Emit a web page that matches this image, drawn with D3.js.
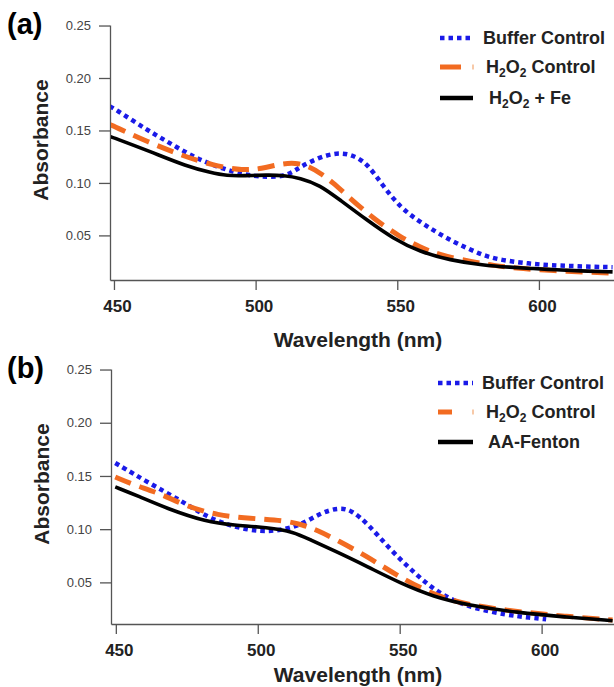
<!DOCTYPE html>
<html><head><meta charset="utf-8">
<script src="https://cdn.jsdelivr.net/npm/d3@7"></script>
<style>
html,body{margin:0;padding:0;background:#fff;}
text{font-family:"Liberation Sans",Arial,Helvetica,sans-serif;}
</style></head>
<body><svg id="c" width="614" height="687"></svg>
<script>
// ---------- data ----------
const yTicks = [0.05, 0.10, 0.15, 0.20, 0.25];
const xTicks = [450, 500, 550, 600];
const yTickLabels = ["0.05", "0.10", "0.15", "0.20", "0.25"];
const xTickLabels = ["450", "500", "550", "600"];

// Panel (a)
const aBufferWl = [448.5, 450, 462, 468.7, 476, 482.8, 492, 498, 504, 509, 513, 515.6, 522, 528.7, 534, 539.3, 545, 551, 557, 562.7, 568.6, 574.6, 580.2, 586, 592.3, 598, 604, 612, 620, 626];
const aBufferAb = [0.173, 0.171, 0.150, 0.1395, 0.128, 0.119, 0.1105, 0.107, 0.1057, 0.106, 0.110, 0.115, 0.124, 0.129, 0.127, 0.119, 0.097, 0.077, 0.0646, 0.055, 0.0455, 0.038, 0.031, 0.027, 0.0245, 0.0228, 0.0216, 0.0208, 0.0200, 0.0197];
const aH2O2Wl = [448.5, 450, 462, 473.3, 485, 495.8, 502, 508.6, 514, 519, 523, 527, 533.3, 541.4, 551, 558, 565, 576.7, 584, 592.3, 600, 610, 618, 626];
const aH2O2Ab = [0.1555, 0.154, 0.139, 0.1268, 0.1165, 0.1118, 0.1135, 0.118, 0.1195, 0.1156, 0.109, 0.101, 0.0855, 0.0665, 0.0484, 0.039, 0.031, 0.0248, 0.0213, 0.0187, 0.0172, 0.0158, 0.0148, 0.014];
const aFeWl = [448.5, 450, 462.7, 475.8, 484, 489.9, 496, 504, 510, 515.6, 522.7, 529.8, 539.3, 548.5, 558, 568.6, 580.2, 590, 597.9, 606, 614, 626];
const aFeAb = [0.1443, 0.143, 0.130, 0.1156, 0.110, 0.1067, 0.1068, 0.1076, 0.1072, 0.1048, 0.098, 0.0837, 0.0646, 0.047, 0.0343, 0.0264, 0.0216, 0.0196, 0.0184, 0.0172, 0.0162, 0.0152];

// Panel (b)
const bBufferWl = [449.8, 462, 472.7, 482, 491.5, 501, 508, 515, 522.2, 528.5, 533, 538.8, 545.8, 552.9, 560, 567, 576, 588.1, 596, 601.6];
const bBufferAb = [0.1622, 0.1429, 0.1272, 0.1115, 0.102, 0.0975, 0.099, 0.1037, 0.1153, 0.1203, 0.118, 0.105, 0.0834, 0.0646, 0.0475, 0.035, 0.0256, 0.0193, 0.0168, 0.0153];
const bH2O2Wl = [449.8, 457, 465.7, 475.3, 485.8, 497.4, 509, 516, 521, 528, 538.8, 548, 562, 574, 591.7, 608, 625];
const bH2O2Ab = [0.149, 0.141, 0.1335, 0.121, 0.1131, 0.110, 0.1084, 0.104, 0.099, 0.0897, 0.074, 0.058, 0.038, 0.0287, 0.0224, 0.0182, 0.0146];
const bFeWl = [449.8, 458, 468, 482, 491.5, 503.4, 512.7, 518.6, 526.8, 538.8, 550.4, 562, 574, 591.7, 608, 625];
const bFeAb = [0.1397, 0.131, 0.1194, 0.1068, 0.1037, 0.1016, 0.0975, 0.0897, 0.080, 0.0646, 0.049, 0.0365, 0.0287, 0.0215, 0.0175, 0.014];

const seriesNamesA = ["Buffer Control", "H2O2 Control", "H2O2 + Fe"];
const seriesNamesB = ["Buffer Control", "H2O2 Control", "AA-Fenton"];

// ---------- styles ----------
const styles = [
  {color: "#1a1ae8", width: 4.5, dash: "4.5,4"},
  {color: "#f26b21", width: 5, dash: "17,9"},
  {color: "#000000", width: 3.6, dash: null}
];

const svg = d3.select("#c");

function panel(cfg) {
  const g = svg.append("g");
  const x = d3.scaleLinear().domain(cfg.xDomain).range([cfg.left, 614]);
  const y = d3.scaleLinear().domain(cfg.yDomain).range([cfg.bottom, cfg.top]);

  // y axis
  const ya = g.append("g").attr("transform", `translate(${cfg.left},0)`)
    .call(d3.axisLeft(y).tickValues(yTicks).tickFormat((d, i) => yTickLabels[i]).tickSize(11).tickSizeOuter(0).tickPadding(8));
  ya.select(".domain").attr("stroke", "#555").attr("stroke-width", 1.3);
  ya.selectAll(".tick line").attr("stroke", "#555").attr("stroke-width", 1.3);
  ya.selectAll(".tick text").attr("font-size", 13).attr("fill", "#444")
    .attr("font-family", "Liberation Sans, Arial, sans-serif");

  // x axis
  const xa = g.append("g").attr("transform", `translate(0,${cfg.bottom})`)
    .call(d3.axisBottom(x).tickValues(xTicks).tickFormat((d, i) => xTickLabels[i]).tickSize(10).tickSizeOuter(0).tickPadding(10));
  xa.select(".domain").attr("stroke", "#555").attr("stroke-width", 1.3);
  xa.selectAll(".tick line").attr("stroke", "#555").attr("stroke-width", 1.3);
  xa.selectAll(".tick text").attr("font-size", 17).attr("font-weight", "bold").attr("fill", "#222")
    .attr("font-family", "Liberation Sans, Arial, sans-serif").attr("dx", 3);

  // clip
  const cid = "clip" + cfg.id;
  svg.append("defs").append("clipPath").attr("id", cid)
    .append("rect").attr("x", cfg.left + 1).attr("y", cfg.top - 20).attr("width", 614 - cfg.left).attr("height", cfg.bottom - cfg.top + 19);

  const line = d3.line().x(d => x(d[0])).y(d => y(d[1])).curve(d3.curveBasis);
  const lg = g.append("g").attr("clip-path", `url(#${cid})`);
  cfg.series.forEach((s, i) => {
    const st = styles[i];
    const data = s.wl.map((w, k) => [w, s.ab[k]]);
    lg.append("path").datum(data).attr("d", line).attr("fill", "none")
      .attr("stroke", st.color).attr("stroke-width", st.width)
      .attr("stroke-dasharray", st.dash).attr("stroke-linejoin", "round");
  });

  // panel label
  g.append("text").attr("x", 7).attr("y", cfg.top + 9).attr("font-size", 29).attr("font-weight", "bold").text(cfg.label);

  // axis titles
  g.append("text").attr("transform", `translate(${cfg.left - 62},${cfg.top + 115}) rotate(-90)`)
    .attr("text-anchor", "middle").attr("font-size", 21).attr("font-weight", "bold").attr("fill", "#222").text("Absorbance");
  g.append("text").attr("x", 358).attr("y", cfg.bottom + cfg.titleOff).attr("text-anchor", "middle")
    .attr("font-size", 21).attr("font-weight", "bold").attr("fill", "#222").text("Wavelength (nm)");

  // legend
  cfg.legend.forEach((L, i) => {
    const st = styles[i];
    const cy = L.base - 6;
    const lgE = g.append("g");
    if (i === 1) {
      lgE.append("line").attr("x1", L.x0).attr("x2", L.x0 + L.dash).attr("y1", cy).attr("y2", cy)
        .attr("stroke", st.color).attr("stroke-width", st.width);
      lgE.append("line").attr("x1", 472).attr("x2", 474).attr("y1", cy).attr("y2", cy)
        .attr("stroke", "#f7c9a8").attr("stroke-width", st.width);
    } else {
      lgE.append("line").attr("x1", L.x0).attr("x2", 473).attr("y1", cy).attr("y2", cy)
        .attr("stroke", st.color).attr("stroke-width", 4.5).attr("stroke-dasharray", st.dash);
    }
    const t = g.append("text").attr("x", L.tx).attr("y", L.base).attr("font-size", 18)
      .attr("font-weight", "bold").attr("fill", "#222");
    const name = cfg.names[i];
    if (name.startsWith("H2O2")) {
      t.append("tspan").text("H");
      t.append("tspan").attr("font-size", 12).attr("dy", 4).text("2");
      t.append("tspan").attr("dy", -4).text("O");
      t.append("tspan").attr("font-size", 12).attr("dy", 4).text("2");
      t.append("tspan").attr("dy", -4).text(name.slice(4));
    } else {
      t.text(name);
    }
  });
}

panel({
  id: "a", label: "(a)", left: 110, top: 25, bottom: 280, titleOff: 67,
  xDomain: [448.6, 626.5], yDomain: [0.0075, 0.2505],
  names: seriesNamesA,
  series: [{wl: aBufferWl, ab: aBufferAb}, {wl: aH2O2Wl, ab: aH2O2Ab}, {wl: aFeWl, ab: aFeAb}],
  legend: [{base: 44, x0: 440, tx: 483}, {base: 73, x0: 440, tx: 486, dash: 21}, {base: 104, x0: 440, tx: 489}]
});
panel({
  id: "b", label: "(b)", left: 111, top: 369, bottom: 624, titleOff: 58,
  xDomain: [448.3, 625.5], yDomain: [0.0109, 0.2505],
  names: seriesNamesB,
  series: [{wl: bBufferWl, ab: bBufferAb}, {wl: bH2O2Wl, ab: bH2O2Ab}, {wl: bFeWl, ab: bFeAb}],
  legend: [{base: 389, x0: 438, tx: 482}, {base: 418, x0: 438, tx: 486, dash: 14}, {base: 448, x0: 438, tx: 488}]
});
</script>
</body></html>
